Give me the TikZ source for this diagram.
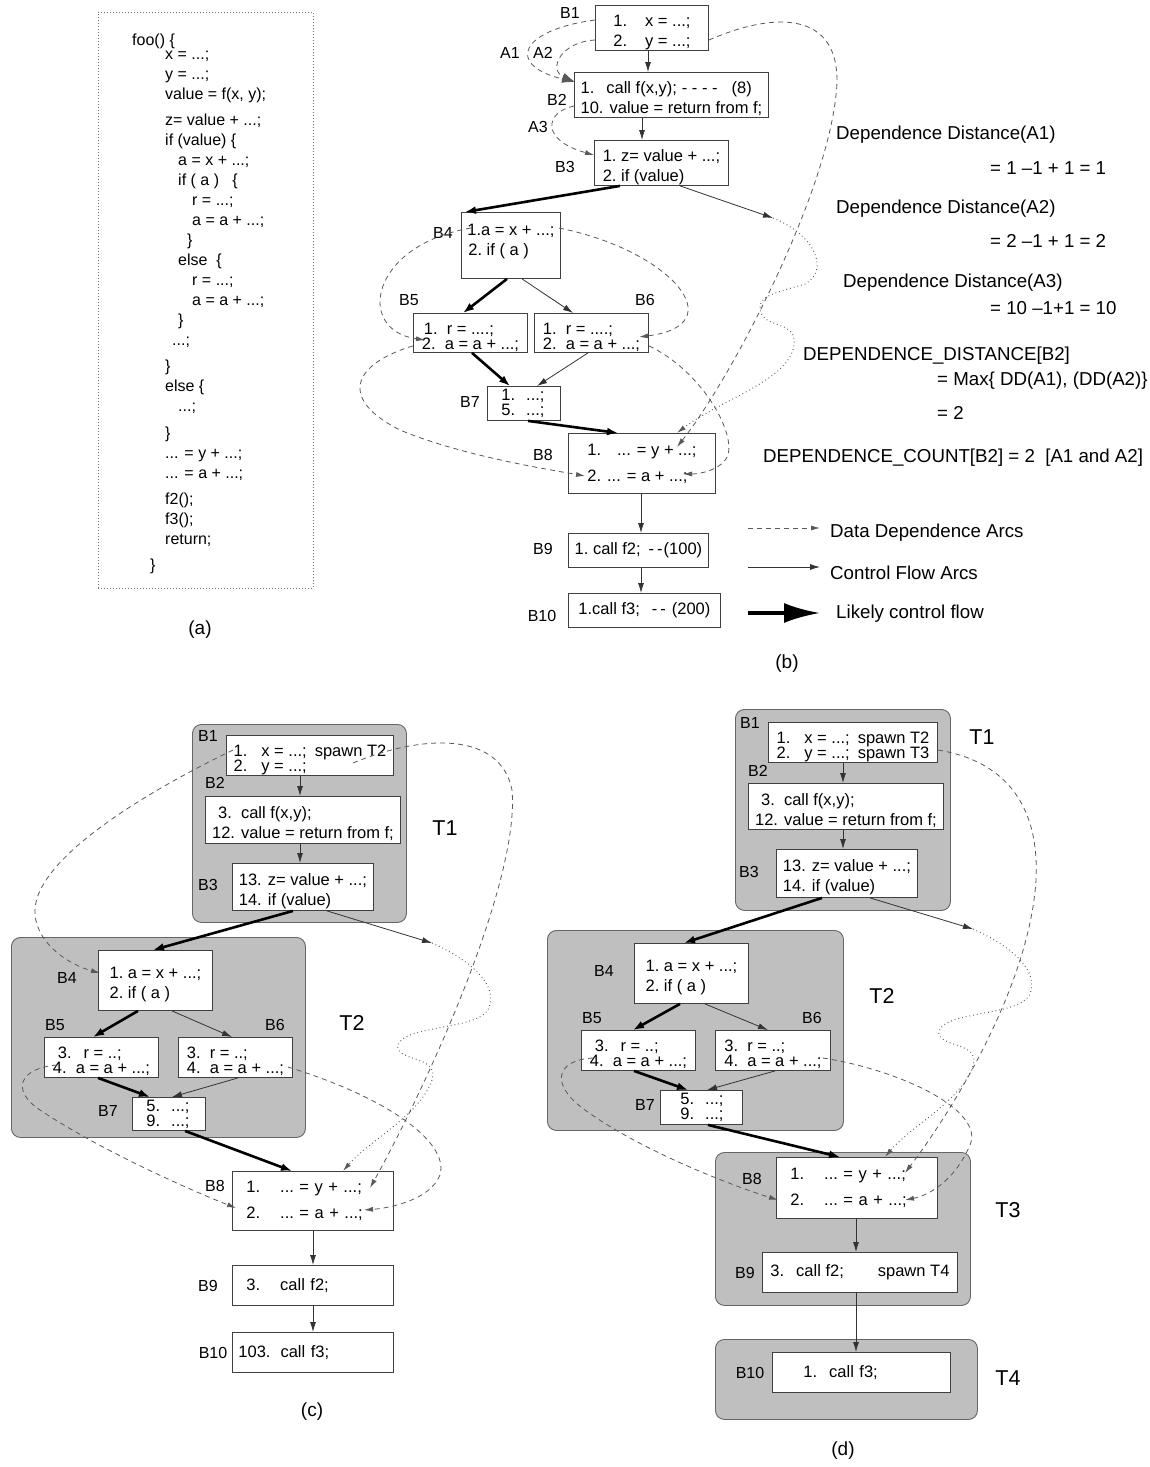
\documentclass[tikz,border=0pt]{standalone}
\usepackage{fontspec}
\setmainfont{Liberation Sans}
\usepackage{tikz}
\usetikzlibrary{arrows.meta, calc, positioning}

\newcommand{\boxfont}{\fontsize{16.5}{20}\selectfont}
\newcommand{\tightfont}{\fontsize{16.5}{15}\selectfont}
\newcommand{\fs}{\rule{0pt}{20pt}}

\begin{document}
\begin{tikzpicture}[
    x=1pt, y=-1pt,
    blk/.style={draw=black!75, line width=0.9pt, fill=white, anchor=north west, align=left, inner sep=0pt, font=\boxfont},
    tight/.style={font=\tightfont},
    thread/.style={draw=black!60, line width=0.9pt, fill=black!25, rounded corners=9pt, anchor=north west, inner sep=0pt},
    blabel/.style={font=\fontsize{16}{19}\selectfont, inner sep=0pt},
    tlabel/.style={font=\fontsize{21.5}{24}\selectfont, inner sep=0pt},
    caption/.style={font=\fontsize{19}{22}\selectfont, inner sep=0pt},
    note/.style={font=\fontsize{18.7}{22}\selectfont, anchor=base west, inner sep=0pt},
    flow/.style={draw=black!80, line width=0.8pt, -{Latex[length=10pt,width=6pt]}},
    likely/.style={draw=black, line width=2.6pt, -{Latex[length=11pt,width=8pt]}},
    dep/.style={draw=black!65, line width=0.8pt, dash pattern=on 5pt off 4pt, -{Latex[length=9pt,width=5pt]}},
    alt/.style={draw=black!65, line width=1pt, dash pattern=on 0.8pt off 3pt, -{Latex[length=9pt,width=5pt]}}
]
\useasboundingbox (0,0) rectangle (1149,1467);

% (a) source of foo
\node[draw=black!55, dash pattern=on 1pt off 2pt, line width=0.8pt, minimum width=215pt, minimum height=576pt, anchor=north west, inner sep=0pt] (frame) at (98,12) {};
\node[anchor=north west, align=left, inner sep=0pt, font=\fontsize{16}{20}\selectfont] (code) at (132,34) {
foo() \{\\[-6pt]
\hspace*{33pt}x = ...;\\
\hspace*{33pt}y = ...;\\
\hspace*{33pt}value = f(x, y);\\[6pt]
\hspace*{33pt}z= value + ...;\\
\hspace*{33pt}if (value) \{\\
\hspace*{46pt}a = x + ...;\\
\hspace*{46pt}if ( a ) \ \ \{\\
\hspace*{60pt}r = ...;\\
\hspace*{60pt}a = a + ...;\\
\hspace*{55pt}\}\\
\hspace*{46pt}else \ \{\\
\hspace*{60pt}r = ...;\\
\hspace*{60pt}a = a + ...;\\
\hspace*{46pt}\}\\
\hspace*{40pt}...;\\[6pt]
\hspace*{33pt}\}\\
\hspace*{33pt}else \{\\
\hspace*{46pt}...;\\[7pt]
\hspace*{33pt}\}\\
\hspace*{33pt}... = y + ...;\\
\hspace*{33pt}... = a + ...;\\[6pt]
\hspace*{33pt}f2();\\
\hspace*{33pt}f3();\\
\hspace*{33pt}return;\\[6pt]
\hspace*{18pt}\}};
\node[caption] (capa) at (200,630) {(a)};

% (b) control flow graph with dependence arcs
\node[blk, minimum width=113pt, minimum height=45pt] (b1) at (595,5) {\fs1.\hspace{18pt}x = ...;\\2.\hspace{18pt}y = ...;};
\node[blk, minimum width=194pt, minimum height=45pt] (b2) at (574,72) {\fs1.\hspace{12pt}call f(x,y);\hspace{5pt}- - - -\hspace{14pt}(8)\\10. value = return from f;};
\node[blk, minimum width=134pt, minimum height=45pt] (b3) at (594,140) {\fs1.~z= value + ...;\\2.~if (value)};
\node[blk, minimum width=99pt, minimum height=66pt] (b4) at (461,212) {\fs1.a = x + ...;\\\hspace*{1pt}2.~if ( a )\\\mbox{}};
\node[blk, tight, minimum width=114pt, minimum height=39pt] (b5) at (413,313) {\fs\hspace*{2pt}1.~~r = ....;\\2.~~a = a + ...;};
\node[blk, tight, minimum width=114pt, minimum height=39pt] (b6) at (534,313) {\fs1.~~r = ....;\\2.~~a = a + ...;};
\node[blk, tight, text width=45pt, inner xsep=14pt, minimum height=34pt] (b7) at (487,386) {1.~~...;\\5.~~...;};
\node[blk, minimum width=147pt, minimum height=60pt] (b8) at (568,433) {1.\hspace{16pt}... = y + ...;\\[6pt]2.\hspace{6pt}... = a + ...;};
\node[blk, minimum width=140pt, minimum height=34pt] (b9) at (568,533) {1.~call f2;\hspace{8pt}-\hspace{3pt}-\hspace{1pt}(100)};
\node[blk, minimum width=152pt, minimum height=34pt] (b10) at (568,593) {1.call f3;\hspace{12pt}-\hspace{3pt}-\hspace{6pt}(200)};

\node[blabel] (lb1) at (570,13) {B1};
\node[blabel] (la1) at (510,53) {A1};
\node[blabel] (la2) at (543,53) {A2};
\node[blabel] (lb2) at (557,100) {B2};
\node[blabel] (la3) at (538,127) {A3};
\node[blabel] (lb3) at (565,167) {B3};
\node[blabel] (lb4) at (443,233) {B4};
\node[blabel] (lb5) at (409,300) {B5};
\node[blabel] (lb6) at (645,300) {B6};
\node[blabel] (lb7) at (470,402) {B7};
\node[blabel] (lb8) at (543,455) {B8};
\node[blabel] (lb9) at (543,549) {B9};
\node[blabel] (lb10) at (542,616) {B10};
\node[caption] (capb) at (787,664) {(b)};

\coordinate (eb) at (773,218);
\draw[flow] ($(b1.south west)+(53,0)$) -- ($(b2.north west)+(74,0)$);
\draw[flow] ($(b2.south west)+(68,0)$) -- ($(b3.north west)+(48,0)$);
\draw[likely] ($(b3.south west)+(26,0)$) -- ($(b4.north west)+(4,0)$);
\draw[flow] ($(b3.south west)+(86,0)$) -- (eb);
\draw[likely] ($(b4.south west)+(46,0)$) -- ($(b5.north west)+(50,0)$);
\draw[flow] ($(b4.south west)+(61,0)$) -- ($(b6.north west)+(39,0)$);
\draw[likely] ($(b5.south west)+(59,0)$) -- ($(b7.north west)+(23,0)$);
\draw[flow] ($(b6.south west)+(54,0)$) -- ($(b7.north west)+(50,0)$);
\draw[likely] ($(b7.south west)+(41,0)$) -- ($(b8.north west)+(50,0)$);
\draw[flow] ($(b8.south west)+(73,0)$) -- ($(b9.north west)+(73,0)$);
\draw[flow] ($(b9.south west)+(73,0)$) -- ($(b10.north west)+(73,0)$);

% data dependences in (b)
\draw[dep, -{Latex[length=13pt,width=8pt]}] ($(b1.north west)+(0,15)$) .. controls (520,30) and (505,65) .. ($(b2.north west)+(1,10)$);
\draw[dep, -{Latex[length=13pt,width=8pt]}] ($(b1.north west)+(0,35)$) .. controls (560,42) and (548,70) .. ($(b2.north west)+(1,10)$);
\draw[dep] ($(b2.north west)+(0,34)$) .. controls (545,112) and (540,140) .. ($(b3.north west)+(0,15)$);
\draw[dep] ($(b1.north east)+(0,35)$) .. controls (790,5) and (845,20) .. (836,95) .. controls (825,200) and (730,380) .. ($(b8.north west)+(109,14)$);
\draw[dep] ($(b4.north west)+(10,16)$) .. controls (370,245) and (355,330) .. ($(b5.north west)+(12,27)$);
\draw[dep] ($(b4.north east)+(-2,16)$) .. controls (670,250) and (735,325) .. ($(b6.north west)+(105,24)$);
\draw[dep] ($(b5.south west)+(0,-7)$) .. controls (350,365) and (340,400) .. (400,430) .. controls (460,455) and (540,468) .. ($(b8.north west)+(17,43)$);
\draw[dep] ($(b6.south east)+(0,-7)$) .. controls (700,370) and (735,430) .. (728,455) .. controls (722,470) and (700,474) .. ($(b8.north west)+(115,41)$);
\draw[alt] (eb) .. controls (815,235) and (830,270) .. (805,284) .. controls (780,292) and (752,295) .. (762,315) .. controls (770,328) and (797,322) .. (794,345) .. controls (790,380) and (720,400) .. ($(b8.north west)+(109,0)$);

% dependence distance notes
\node[note] (dda1) at (836,139) {Dependence Distance(A1)};
\node[note] (vda1) at (990,174) {= 1 \textendash1 + 1 = 1};
\node[note] (dda2) at (836,213) {Dependence Distance(A2)};
\node[note] (vda2) at (990,247) {= 2 \textendash1 + 1 = 2};
\node[note] (dda3) at (843,287) {Dependence Distance(A3)};
\node[note] (vda3) at (990,314) {= 10 \textendash1+1 = 10};
\node[note] (ddb2) at (803,360) {DEPENDENCE\_DISTANCE[B2]};
\node[note] (maxb2) at (937,385) {= Max\{ DD(A1), (DD(A2)\}};
\node[note] (valb2) at (937,419) {= 2};
\node[note] (dcb2) at (763,462) {DEPENDENCE\_COUNT[B2] = 2 \ [A1 and A2]};

% legend
\node[note, anchor=west, inner xsep=10pt] (tdep) at (820,533) {Data Dependence Arcs};
\node[note, anchor=west, inner xsep=10pt] (tflow) at (820,573) {Control Flow Arcs};
\node[note, anchor=west, inner xsep=16pt] (tlik) at (820,614) {Likely control flow};
\coordinate (ldep) at (748,528);
\coordinate (lflow) at (748,567);
\coordinate (llik) at (748,613);
\draw[dep] (ldep) -- (ldep -| tdep.west);
\draw[flow] (lflow) -- (lflow -| tflow.west);
\draw[line width=3.5pt, -{Latex[length=36pt,width=20pt]}] (llik) -- (llik -| tlik.west);

% (c) two threads
\node[thread, minimum width=214pt, minimum height=198pt] (t1c) at (192,724) {};
\node[thread, minimum width=294pt, minimum height=200pt] (t2c) at (11,937) {};
\node[blk, tight, minimum width=167pt, minimum height=40pt] (c1) at (226,735) {\fs1.\hspace{14pt}x = ...;\hspace{8pt}spawn T2\\2.\hspace{14pt}y = ...;};
\node[blk, minimum width=195pt, minimum height=47pt] (c2) at (205,796) {\fs\hspace*{6pt}3.~~call f(x,y);\\12. value = return from f;};
\node[blk, minimum width=141pt, minimum height=47pt] (c3) at (232,863) {\fs13. z= value + ...;\\14. if (value)};
\node[blk, minimum width=114pt, minimum height=60pt] (c4) at (98,950) {\fs1.~a = x + ...;\\2.~if ( a )};
\node[blk, tight, minimum width=114pt, minimum height=40pt] (c5) at (44,1037) {\fs\hspace*{5pt}3.\hspace{12pt}r = ..;\\4.~~a = a + ...;};
\node[blk, tight, minimum width=114pt, minimum height=40pt] (c6) at (178,1037) {\fs3.~~r = ..;\\4.~~a = a + ...;};
\node[blk, tight, text width=45pt, inner xsep=14pt, minimum height=33pt] (c7) at (132,1097) {5.~~...;\\9.~~...;};
\node[blk, text width=133pt, inner xsep=14pt, minimum height=59pt] (c8) at (232,1171) {1.\hspace{20pt}...~=~y~+~...;\\[6pt]2.\hspace{20pt}...~=~a~+~...;};
\node[blk, text width=133pt, inner xsep=14pt, minimum height=40pt] (c9) at (232,1265) {3.\hspace{20pt}call f2;};
\node[blk, text width=149pt, inner xsep=6pt, minimum height=40pt] (c10) at (232,1332) {103.\hspace{10pt}call f3;};

\node[blabel] (lc1) at (208,736) {B1};
\node[blabel] (lc2) at (215,783) {B2};
\node[blabel] (lc3) at (208,885) {B3};
\node[blabel] (lc4) at (67,978) {B4};
\node[blabel] (lc5) at (55,1025) {B5};
\node[blabel] (lc6) at (275,1025) {B6};
\node[blabel] (lc7) at (108,1111) {B7};
\node[blabel] (lc8) at (215,1186) {B8};
\node[blabel] (lc9) at (208,1286) {B9};
\node[blabel] (lc10) at (213,1353) {B10};
\node[tlabel] (tc1) at (445,828) {T1};
\node[tlabel] (tc2) at (352,1023) {T2};
\node[caption] (capc) at (312,1412) {(c)};

\coordinate (ec) at (432,943);
\draw[flow] ($(c1.south west)+(74,0)$) -- ($(c2.north west)+(95,0)$);
\draw[flow] ($(c2.south west)+(95,0)$) -- ($(c3.north west)+(68,0)$);
\draw[likely] ($(c3.south west)+(61,0)$) -- ($(c4.north west)+(55,0)$);
\draw[flow] ($(c3.south west)+(95,0)$) -- (ec);
\draw[likely] ($(c4.south west)+(40,0)$) -- ($(c5.north west)+(49,0)$);
\draw[flow] ($(c4.south west)+(74,0)$) -- ($(c6.north west)+(54,0)$);
\draw[likely] ($(c5.south west)+(54,0)$) -- ($(c7.north west)+(18,0)$);
\draw[flow] ($(c6.south west)+(60,0)$) -- ($(c7.north west)+(40,0)$);
\draw[likely] ($(c7.south west)+(53,0)$) -- ($(c8.north west)+(60,0)$);
\draw[flow] ($(c8.south west)+(81,0)$) -- ($(c9.north west)+(81,0)$);
\draw[flow] ($(c9.south west)+(81,0)$) -- ($(c10.north west)+(81,0)$);

\draw[dep] ($(c1.north west)+(7,15)$) .. controls (150,790) and (30,860) .. (35,915) .. controls (38,945) and (70,965) .. ($(c4.north west)+(2,23)$);
\draw[dep] ($(c1.north west)+(127,28)$) .. controls (420,735) and (500,730) .. (512,790) .. controls (520,880) and (430,1080) .. ($(c8.north west)+(138,17)$);
\draw[dep] ($(c5.north west)+(13,28)$) .. controls (20,1068) and (10,1090) .. (40,1110) .. controls (100,1150) and (190,1190) .. ($(c8.north west)+(4,37)$);
\draw[dep] ($(c6.north east)+(-5,30)$) .. controls (380,1095) and (450,1140) .. (440,1175) .. controls (430,1200) and (390,1208) .. ($(c8.north west)+(132,39)$);
\draw[alt] (ec) .. controls (470,960) and (500,985) .. (488,1010) .. controls (475,1030) and (405,1025) .. (398,1045) .. controls (395,1062) and (440,1055) .. (432,1080) .. controls (420,1115) and (370,1140) .. ($(c8.north west)+(111,0)$);

% (d) four threads
\node[thread, minimum width=215pt, minimum height=201pt] (t1d) at (735,709) {};
\node[thread, minimum width=296pt, minimum height=200pt] (t2d) at (547,930) {};
\node[thread, minimum width=255pt, minimum height=153pt] (t3d) at (715,1152) {};
\node[thread, minimum width=262pt, minimum height=80pt] (t4d) at (715,1339) {};
\node[blk, tight, minimum width=169pt, minimum height=40pt] (d1) at (768,722) {\fs1.\hspace{14pt}x = ...;\hspace{8pt}spawn T2\\2.\hspace{14pt}y = ...;\hspace{8pt}spawn T3};
\node[blk, minimum width=195pt, minimum height=46pt] (d2) at (748,783) {\fs\hspace*{6pt}3.~~call f(x,y);\\12. value = return from f;};
\node[blk, minimum width=141pt, minimum height=48pt] (d3) at (776,849) {\fs13. z= value + ...;\\14. if (value)};
\node[blk, minimum width=114pt, minimum height=60pt] (d4) at (634,943) {\fs1.~a = x + ...;\\2.~if ( a )};
\node[blk, tight, minimum width=114pt, minimum height=40pt] (d5) at (581,1030) {\fs\hspace*{5pt}3.\hspace{12pt}r = ..;\\4.~~a = a + ...;};
\node[blk, tight, minimum width=115pt, minimum height=40pt] (d6) at (715,1030) {\fs3.~~r = ..;\\4.~~a = a + ...;};
\node[blk, tight, text width=42pt, inner xsep=20pt, minimum height=34pt] (d7) at (660,1090) {5.~~...;\\9.~~...;};
\node[blk, text width=133pt, inner xsep=14pt, minimum height=61pt] (d8) at (776,1157) {1.\hspace{20pt}...~=~y~+~...;\\[6pt]2.\hspace{20pt}...~=~a~+~...;};
\node[blk, minimum width=195pt, minimum height=40pt] (d9) at (762,1252) {3.\hspace{12pt}call f2;\hspace{34pt}spawn T4};
\node[blk, text width=116pt, inner xsep=31pt, minimum height=40pt] (d10) at (772,1352) {1.\hspace{12pt}call f3;};

\node[blabel] (ld1) at (750,723) {B1};
\node[blabel] (ld2) at (758,771) {B2};
\node[blabel] (ld3) at (749,872) {B3};
\node[blabel] (ld4) at (604,971) {B4};
\node[blabel] (ld5) at (592,1018) {B5};
\node[blabel] (ld6) at (812,1018) {B6};
\node[blabel] (ld7) at (645,1105) {B7};
\node[blabel] (ld8) at (752,1179) {B8};
\node[blabel] (ld9) at (745,1273) {B9};
\node[blabel] (ld10) at (750,1373) {B10};
\node[tlabel] (td1) at (982,737) {T1};
\node[tlabel] (td2) at (882,996) {T2};
\node[tlabel] (td3) at (1008,1210) {T3};
\node[tlabel] (td4) at (1008,1378) {T4};
\node[caption] (capd) at (843,1451) {(d)};

\coordinate (ed) at (973,929);
\draw[flow] ($(d1.south west)+(75,0)$) -- ($(d2.north west)+(95,0)$);
\draw[flow] ($(d2.south west)+(95,0)$) -- ($(d3.north west)+(67,0)$);
\draw[likely] ($(d3.south west)+(46,0)$) -- ($(d4.north west)+(50,0)$);
\draw[flow] ($(d3.south west)+(94,0)$) -- (ed);
\draw[likely] ($(d4.south west)+(46,0)$) -- ($(d5.north west)+(52,0)$);
\draw[flow] ($(d4.south west)+(71,0)$) -- ($(d6.north west)+(53,0)$);
\draw[likely] ($(d5.south west)+(53,0)$) -- ($(d7.north west)+(28,0)$);
\draw[flow] ($(d6.south west)+(60,0)$) -- ($(d7.north west)+(47,0)$);
\draw[likely] ($(d7.south west)+(48,0)$) -- ($(d8.north west)+(64,0)$);
\draw[flow] ($(d8.south west)+(80,0)$) -- ($(d9.north west)+(94,0)$);
\draw[flow] ($(d9.south west)+(94,0)$) -- ($(d10.north west)+(84,0)$);

\draw[dep] ($(d1.north east)+(0,28)$) .. controls (1000,760) and (1040,800) .. (1036,880) .. controls (1030,980) and (960,1100) .. ($(d8.north west)+(129,16)$);
\draw[dep] ($(d5.north west)+(12,28)$) .. controls (555,1060) and (550,1085) .. (585,1110) .. controls (640,1150) and (730,1185) .. ($(d8.north west)+(2,43)$);
\draw[dep] ($(d6.north east)+(-8,28)$) .. controls (900,1070) and (985,1110) .. (970,1145) .. controls (955,1180) and (930,1195) .. ($(d8.north west)+(129,43)$);
\draw[alt] (ed) .. controls (1011,946) and (1041,971) .. (1029,996) .. controls (1016,1016) and (946,1011) .. (939,1031) .. controls (936,1048) and (981,1041) .. (973,1066) .. controls (961,1101) and (911,1126) .. ($(d8.north west)+(109,0)$);

\end{tikzpicture}
\end{document}
